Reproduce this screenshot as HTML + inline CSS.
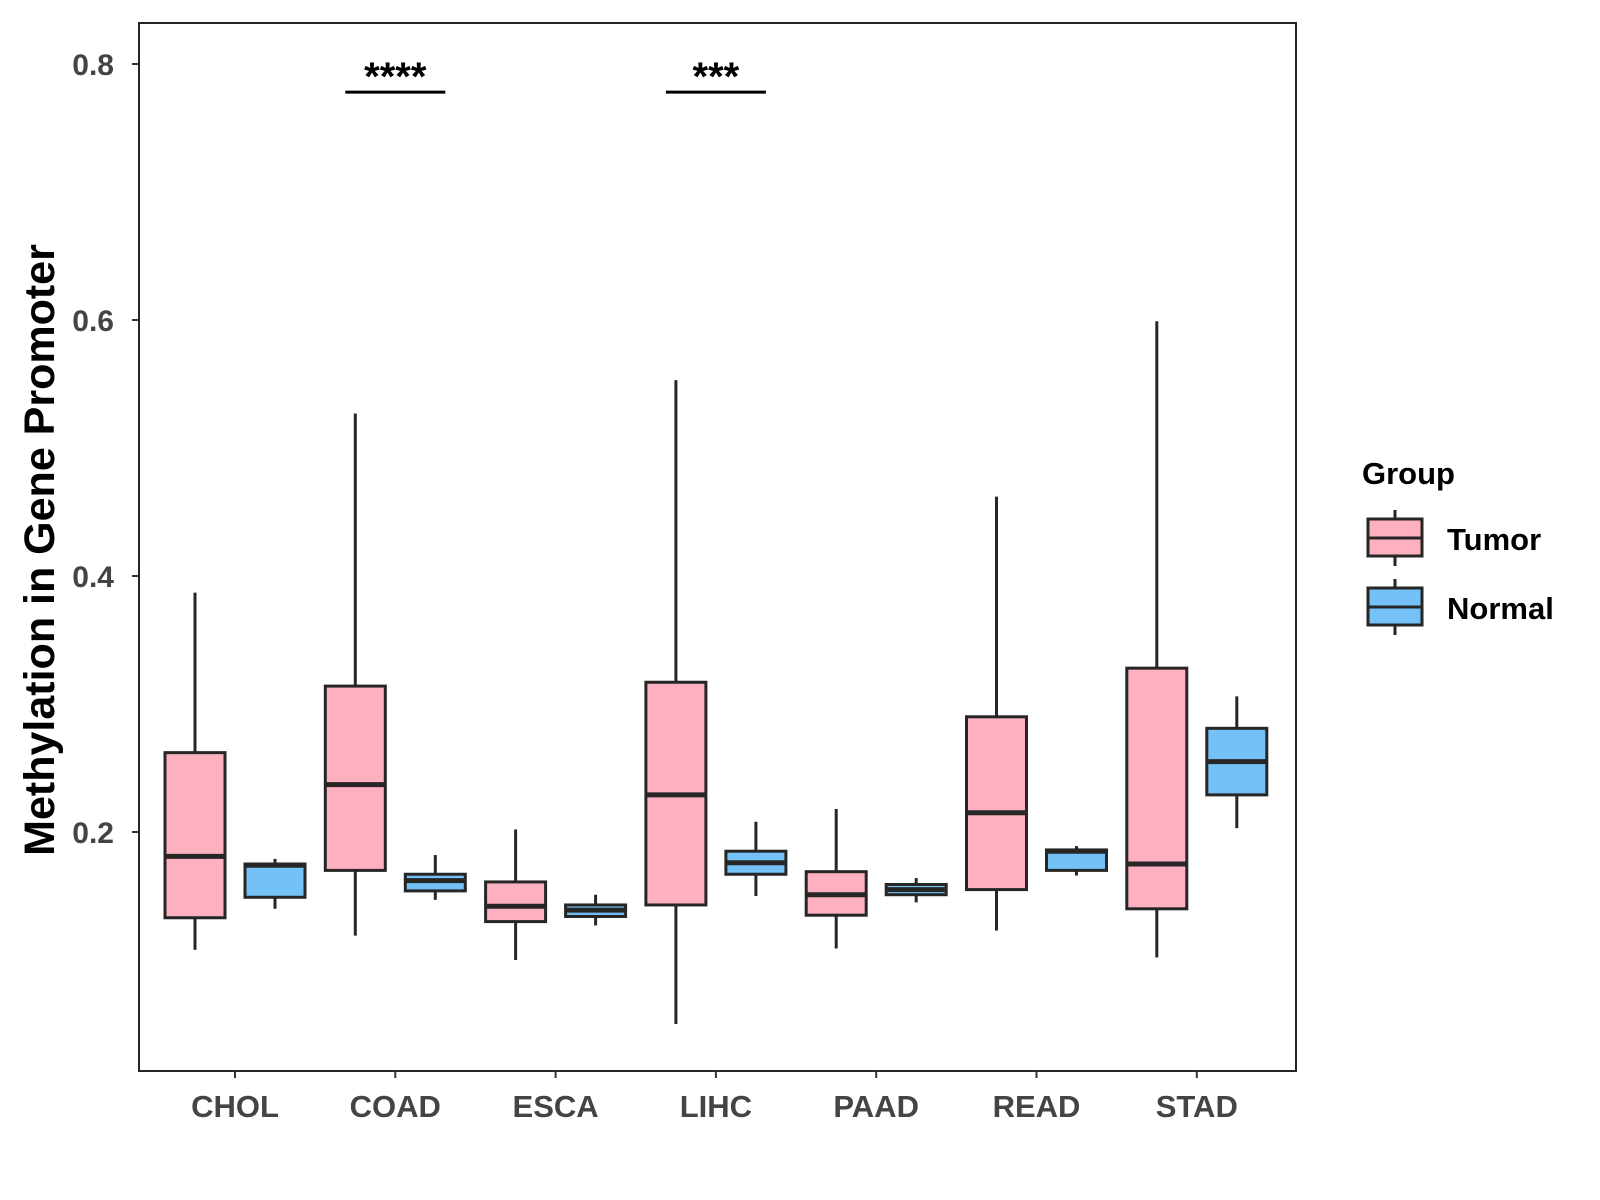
<!DOCTYPE html>
<html><head><meta charset="utf-8"><style>
html,body{margin:0;padding:0;background:#fff;}
svg{display:block;font-family:"Liberation Sans",Arial,sans-serif;font-weight:bold;}
</style></head><body>
<svg id="chart" width="1600" height="1200" viewBox="0 0 1600 1200" xmlns="http://www.w3.org/2000/svg">
<g id="plot"></g>
<text x="0" y="0" transform="translate(54,550) rotate(-90)" text-anchor="middle" font-size="43" fill="#000">Methylation in Gene Promoter</text>
<g>
<text x="1362" y="484" font-size="31" fill="#000">Group</text>
<g>
<line x1="1395" y1="510" x2="1395" y2="566" stroke="#262626" stroke-width="3"/>
<rect x="1368" y="519" width="54" height="37" fill="#FDB0C0" stroke="#262626" stroke-width="3"/>
<line x1="1368" y1="538" x2="1422" y2="538" stroke="#262626" stroke-width="3"/>
<text x="1447" y="550" font-size="31" fill="#000">Tumor</text>
</g>
<g>
<line x1="1395" y1="579" x2="1395" y2="635" stroke="#262626" stroke-width="3"/>
<rect x="1368" y="588" width="54" height="37" fill="#73C1F7" stroke="#262626" stroke-width="3"/>
<line x1="1368" y1="607" x2="1422" y2="607" stroke="#262626" stroke-width="3"/>
<text x="1447" y="619" font-size="31" fill="#000">Normal</text>
</g>
</g>
</svg>
<script>
const categories = ["CHOL","COAD","ESCA","LIHC","PAAD","READ","STAD"];
// [low, q1, median, q3, high]
const tumorStats = [
 [0.108,0.133,0.181,0.262,0.387],
 [0.119,0.170,0.237,0.314,0.527],
 [0.100,0.130,0.142,0.161,0.202],
 [0.050,0.143,0.229,0.317,0.553],
 [0.109,0.135,0.151,0.169,0.218],
 [0.123,0.155,0.215,0.290,0.462],
 [0.102,0.140,0.175,0.328,0.599]
];
const normalStats = [
 [0.140,0.149,0.174,0.175,0.179],
 [0.147,0.154,0.162,0.167,0.182],
 [0.127,0.134,0.139,0.143,0.151],
 [0.150,0.167,0.176,0.185,0.208],
 [0.145,0.151,0.155,0.159,0.164],
 [0.166,0.170,0.185,0.186,0.189],
 [0.203,0.229,0.255,0.281,0.306]
];
const yTicks = [0.2,0.4,0.6,0.8];
const sigCategories = ["COAD","LIHC"];
const sigLabels = ["****","***"];
const sigLevel = 0.778;

const L=139,T=23,R=1296,B=1071;
const ns="http://www.w3.org/2000/svg";
const y = v => 832 - (v-0.2)*1280;
const x = i => 235 + i*160.3;
const g = document.getElementById('plot');
function mk(tag, attrs, parent){const e=document.createElementNS(ns,tag);for(const k in attrs)e.setAttribute(k,attrs[k]);(parent||g).appendChild(e);return e;}

const panel = mk('rect',{x:L,y:T,width:R-L,height:B-T,fill:'#fff',stroke:'#262626','stroke-width':2});



yTicks.forEach(t=>{
  const tk=mk('line',{x1:L-7,x2:L,y1:y(t),y2:y(t),stroke:'#333','stroke-width':2});
  
  
  const lb=mk('text',{x:L-25,y:y(t)+11,'text-anchor':'end','font-size':30,fill:'#444'});
  lb.textContent=t.toFixed(1);
  
  
});

function drawBox(cx, s, fill, name){
  const bw=60, grp=mk('g',{});
  
  
  mk('line',{x1:cx,x2:cx,y1:y(s[4]),y2:y(s[3]),stroke:'#262626','stroke-width':3},grp);
  mk('line',{x1:cx,x2:cx,y1:y(s[1]),y2:y(s[0]),stroke:'#262626','stroke-width':3},grp);
  mk('rect',{x:cx-bw/2,y:y(s[3]),width:bw,height:y(s[1])-y(s[3]),fill:fill,stroke:'#262626','stroke-width':3},grp);
  mk('line',{x1:cx-bw/2,x2:cx+bw/2,y1:y(s[2]),y2:y(s[2]),stroke:'#262626','stroke-width':5},grp);
}

categories.forEach((c,i)=>{
  const tk=mk('line',{x1:x(i),x2:x(i),y1:B,y2:B+7,stroke:'#333','stroke-width':2});
  
  
  const lb=mk('text',{x:x(i),y:B+46,'text-anchor':'middle','font-size':31,fill:'#444'});
  lb.textContent=c;
  
  
  drawBox(x(i)-40, tumorStats[i], '#FDB0C0', 'box-tumor-'+c.toLowerCase());
  drawBox(x(i)+40, normalStats[i], '#73C1F7', 'box-normal-'+c.toLowerCase());
});

sigCategories.forEach((c,k)=>{
  const i=categories.indexOf(c);
  const ln=mk('line',{x1:x(i)-50,x2:x(i)+50,y1:y(sigLevel),y2:y(sigLevel),stroke:'#000','stroke-width':3});
  
  
  const tx=mk('text',{x:x(i),y:y(sigLevel)-2,'text-anchor':'middle','font-size':40,fill:'#000'});
  tx.textContent=sigLabels[k];
  
  
});
</script>
</body></html>
